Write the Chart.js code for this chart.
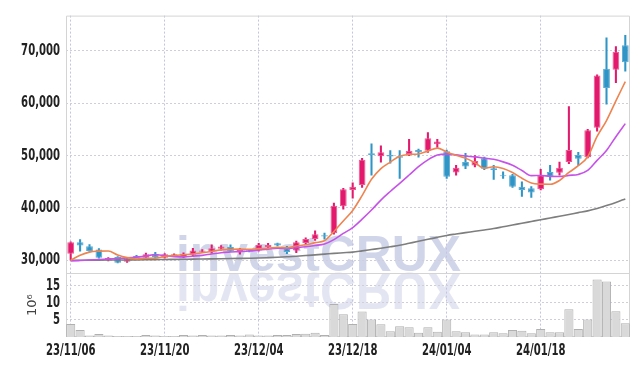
<!DOCTYPE html>
<html><head><meta charset="utf-8">
<script src="https://cdn.jsdelivr.net/npm/chart.js@4.4.1/dist/chart.umd.min.js"></script>
<style>html,body{margin:0;padding:0;background:#fff;}#wrap{width:639px;height:366px;}</style>
</head><body><div id="wrap"><canvas id="c" width="639" height="366"></canvas></div>
<script>
const dates = ['23/11/06','23/11/07','23/11/08','23/11/09','23/11/10','23/11/13','23/11/14','23/11/15','23/11/16','23/11/17',
'23/11/20','23/11/21','23/11/22','23/11/23','23/11/24','23/11/27','23/11/28','23/11/29','23/11/30','23/12/01',
'23/12/04','23/12/05','23/12/06','23/12/07','23/12/08','23/12/11','23/12/12','23/12/13','23/12/14','23/12/15',
'23/12/18','23/12/19','23/12/20','23/12/21','23/12/22','23/12/26','23/12/27','23/12/28','24/01/02','24/01/03',
'24/01/04','24/01/05','24/01/08','24/01/09','24/01/10','24/01/11','24/01/12','24/01/15','24/01/16','24/01/17',
'24/01/18','24/01/19','24/01/22','24/01/23','24/01/24','24/01/25','24/01/26','24/01/29','24/01/30','24/01/31'];
const opens = [31240,33430,32680,32060,30000,30620,29740,30860,30490,31130,
30490,30860,30620,31050,31610,31690,32180,32550,31740,31930,
31880,32550,33250,32300,31880,33300,34050,34800,35180,40320,
43430,44370,50450,49890,50130,49890,50320,51060,50940,52190,
50820,46750,48760,48120,49510,47560,46250,46250,44070,43750,
43560,46880,46700,48760,50130,49700,55330,66580,66400,71080];
const highs = [33500,33940,33000,32250,30500,30700,30490,30950,31370,31500,
31300,31250,31400,32300,32060,32930,32800,32930,32300,32060,
33250,33250,33300,32680,33680,34300,35630,35180,40940,43750,
44820,49500,52230,51870,50940,50940,53130,51250,54390,53130,
51060,48120,50450,50000,49700,48120,46880,46400,45000,44070,
47370,48120,48760,59380,50640,55000,65450,72510,70820,72960];
const lows = [30000,31750,31700,30400,29900,29500,29600,30400,30400,30500,
30400,30750,30500,30750,31500,31370,31930,31700,31180,31600,
31750,32300,32750,31240,31430,33100,33800,34050,35000,39750,
41870,43900,46250,48760,48570,45630,50000,49700,50600,51560,
45630,46250,47500,47820,47300,45440,45630,43900,42190,42000,
43430,45310,46250,48440,48120,49570,54690,59830,63950,66130];
const closes = [33430,32810,31750,30490,30430,29550,30300,30490,31130,30620,
31130,31130,31240,31880,31880,32300,32630,31740,32060,31740,
32930,32930,32810,31560,33430,34050,34990,34560,40430,43560,
44070,49190,50130,50640,49810,49570,50940,50640,53320,52700,
45940,47690,47940,48950,47500,47260,46060,44070,43430,42940,
46250,45940,47690,51060,49380,54820,65320,62940,69830,67820];
const ma5 = [30000,30940,31560,31740,31780,31006,30504,30252,30380,30418,
30734,30900,31050,31200,31452,31686,31986,32086,32122,32094,
32220,32280,32494,32394,32732,32956,33368,33718,35492,37518,
39522,42362,45476,47518,48768,49868,50218,50320,50856,51434,
50708,50058,49518,48644,47604,47868,47542,46768,45664,44752,
44550,44526,45250,46776,48064,49778,53654,56704,60458,64146];
const ma10 = [29850,29950,30050,30150,30250,30350,30450,30600,30800,31100,
30870,30702,30651,30790,30935,31210,31443,31568,31661,31773,
31953,32133,32290,32258,32413,32588,32824,33106,33943,35125,
36239,37865,39597,41505,43143,44695,46290,47898,49187,50101,
50288,50138,49919,49750,49519,49288,48800,48143,47154,46178,
46209,46034,46009,46220,46408,47164,49090,50977,53617,56105];
const ma60 = [30000,30010,30020,30030,30040,30050,30060,30080,30100,30120,
30150,30170,30190,30210,30240,30270,30300,30330,30360,30390,
30430,30500,30580,30670,30770,30900,31030,31170,31320,31440,
31560,31800,32050,32300,32580,32870,33250,33630,34000,34380,
34750,35020,35280,35540,35800,36060,36400,36740,37070,37410,
37750,38080,38420,38750,39100,39440,39900,40450,41050,41730];
const volumes = [3.8,2.0,0.4,0.85,0.4,0.3,0.3,0.3,0.55,0.4,
0.3,0.3,0.55,0.4,0.55,0.4,0.4,0.55,0.4,0.75,
0.4,0.4,0.55,0.55,0.85,0.95,1.2,0.55,9.6,6.6,
3.8,7.4,5.1,3.7,1.7,3.1,2.8,1.2,2.8,1.5,
5.1,1.7,1.4,0.75,0.75,1.4,1.1,2.0,1.8,1.1,
2.3,1.4,1.4,8.1,2.3,5.1,16.7,16.1,7.5,4.0];
const priceTicks = [30000,40000,50000,60000,70000];
const volumeTicks = [5,10,15];
const xTickEvery = 10;
const volumeUnit = '10⁶';
const watermark = 'investCRUX';

const UP = '#E2196C', UP_B = '#EC5A92', DN = '#2F95C6', DN_B = '#5CAAD2';
const isUp = closes.map((c,i)=>c>=opens[i]);
const FAM = "'DejaVu Sans Condensed','DejaVu Sans',sans-serif";
const yFont = {family:FAM, size:16, weight:'bold'};
const xFont = {family:FAM, size:16, weight:'bold'};
const SQUEEZE = 0.7;

// draw the library's own tick labels horizontally condensed around each label anchor
function condense(s){
  if (s._condensed) return;
  s._condensed = true;
  s._computeLabelArea = function(){ return undefined; };
  const orig = s.drawLabels;
  s.drawLabels = function(area){
    const items = this.getLabelItems(area);
    const saved = items.map(it=>it.options.translation);
    items.forEach(it=>{ const t = it.options.translation; it.options.translation = [t[0]/SQUEEZE, t[1]]; });
    this.ctx.save(); this.ctx.scale(SQUEEZE,1);
    orig.call(this, area);
    this.ctx.restore();
    items.forEach((it,i)=>{ it.options.translation = saved[i]; });
  };
}

const bgPlugin = {
  id:'bg',
  beforeDraw(chart){
    const ctx = chart.ctx;
    ctx.save();
    ctx.fillStyle = '#fff';
    ctx.fillRect(0,0,chart.width,chart.height);
    ctx.font = 'bold 50px "Liberation Sans", Arial, sans-serif';
    const w = ctx.measureText(watermark).width;
    const sx = 285 / w;
    ctx.save();
    ctx.translate(176, 271);
    ctx.scale(sx, 1);
    ctx.fillStyle = 'rgba(200,206,230,0.85)';
    ctx.fillText(watermark, 0, 0);
    ctx.restore();
    ctx.save();
    ctx.translate(176, 273);
    ctx.scale(sx, -1.05);
    ctx.fillStyle = 'rgba(222,226,240,0.85)';
    ctx.fillText(watermark, 0, 0);
    ctx.restore();
    ctx.restore();
  },
  beforeDatasetsDraw(chart){
    const ctx = chart.ctx, a = chart.chartArea;
    const sep = chart.scales.y.bottom;
    ctx.save();
    ctx.strokeStyle = '#d4d4d4';
    ctx.lineWidth = 1;
    ctx.beginPath();
    ctx.moveTo(a.left+0.5, a.top+0.5); ctx.lineTo(a.right-0.5, a.top+0.5);
    ctx.lineTo(a.right-0.5, a.bottom-0.5); ctx.lineTo(a.left+0.5, a.bottom-0.5); ctx.closePath();
    ctx.moveTo(a.left, Math.round(sep)+0.5); ctx.lineTo(a.right, Math.round(sep)+0.5);
    ctx.stroke();
    ctx.restore();
  },
  afterDraw(chart){
    const ctx = chart.ctx, s = chart.scales.yv;
    ctx.save();
    ctx.translate(33, (s.top+s.bottom)/2);
    ctx.rotate(-Math.PI/2);
    ctx.textAlign='center'; ctx.textBaseline='middle';
    ctx.font = '13px "DejaVu Sans", sans-serif';
    ctx.fillStyle = '#444';
    ctx.fillText(volumeUnit, 0, 0);
    ctx.restore();
  }
};

new Chart(document.getElementById('c'), {
  type:'bar',
  data:{
    labels: dates,
    datasets:[
      {type:'line', label:'MA5', data:ma5, yAxisID:'y', borderColor:'#EE8450', borderWidth:1.6, pointRadius:0, cubicInterpolationMode:'monotone', order:0},
      {type:'line', label:'MA10', data:ma10, yAxisID:'y', borderColor:'#C653E8', borderWidth:1.6, pointRadius:0, cubicInterpolationMode:'monotone', order:0},
      {type:'line', label:'MA60', data:ma60, yAxisID:'y', borderColor:'#7E7E7E', borderWidth:1.6, pointRadius:0, cubicInterpolationMode:'monotone', order:0},
      {label:'body', data:opens.map((o,i)=>[o,closes[i]]), yAxisID:'y', grouped:false,
       backgroundColor:isUp.map(u=>u?UP:DN), borderColor:isUp.map(u=>u?UP_B:DN_B), borderWidth:1, borderSkipped:false,
       barPercentage:0.8, categoryPercentage:0.9, minBarLength:1, order:1},
      {label:'wick', data:lows.map((l,i)=>[l,highs[i]]), yAxisID:'y', grouped:false,
       backgroundColor:isUp.map(u=>u?UP:DN), barThickness:1.4, order:2},
      {label:'volume', data:volumes, yAxisID:'yv', grouped:false,
       backgroundColor:'#d9d9d9', borderColor:'#b0b0b0', borderWidth:1, borderSkipped:'bottom',
       barPercentage:0.97, categoryPercentage:1, order:3}
    ]
  },
  options:{
    responsive:false, animation:false, devicePixelRatio:1,
    layout:{padding:{top:9,right:9,left:0,bottom:0}},
    plugins:{legend:{display:false}, tooltip:{enabled:false}},
    scales:{
      x:{
        type:'category', offset:true,
        grid:{offset:false, drawTicks:false, color:c=> (c.index % xTickEvery === 0) ? '#c4c4e2' : 'rgba(0,0,0,0)', lineWidth:1},
        border:{display:false, dash:[2,2]},
        ticks:{autoSkip:false, maxRotation:0, minRotation:0, padding:4, font:xFont, color:'#222',
          callback:(v,i)=> (i % xTickEvery === 0) ? dates[i] : ''},
        afterFit:s=>{s.height=29; condense(s);}
      },
      yv:{
        type:'linear', position:'left', stack:'main', stackWeight:1, min:0, max:18.5,
        grid:{drawTicks:false, color:'#cfcfd8', lineWidth:1},
        border:{display:false, dash:[2,2]},
        ticks:{autoSkip:false, padding:6, font:yFont, color:'#222'},
        afterBuildTicks:s=>{s.ticks = volumeTicks.map(v=>({value:v}));},
        afterFit:s=>{s.width=66; condense(s);}
      },
      y:{
        type:'linear', position:'left', stack:'main', stackWeight:4.05, min:27500, max:76750,
        grid:{drawTicks:false, color:'#cfcfd8', lineWidth:1},
        border:{display:false, dash:[2,2]},
        ticks:{autoSkip:false, padding:6, font:yFont, color:'#222', callback:v=>v.toLocaleString('en-US')},
        afterBuildTicks:s=>{s.ticks = priceTicks.map(v=>({value:v}));},
        afterFit:s=>{s.width=66; condense(s);}
      }
    }
  },
  plugins:[bgPlugin]
});
</script></body></html>
